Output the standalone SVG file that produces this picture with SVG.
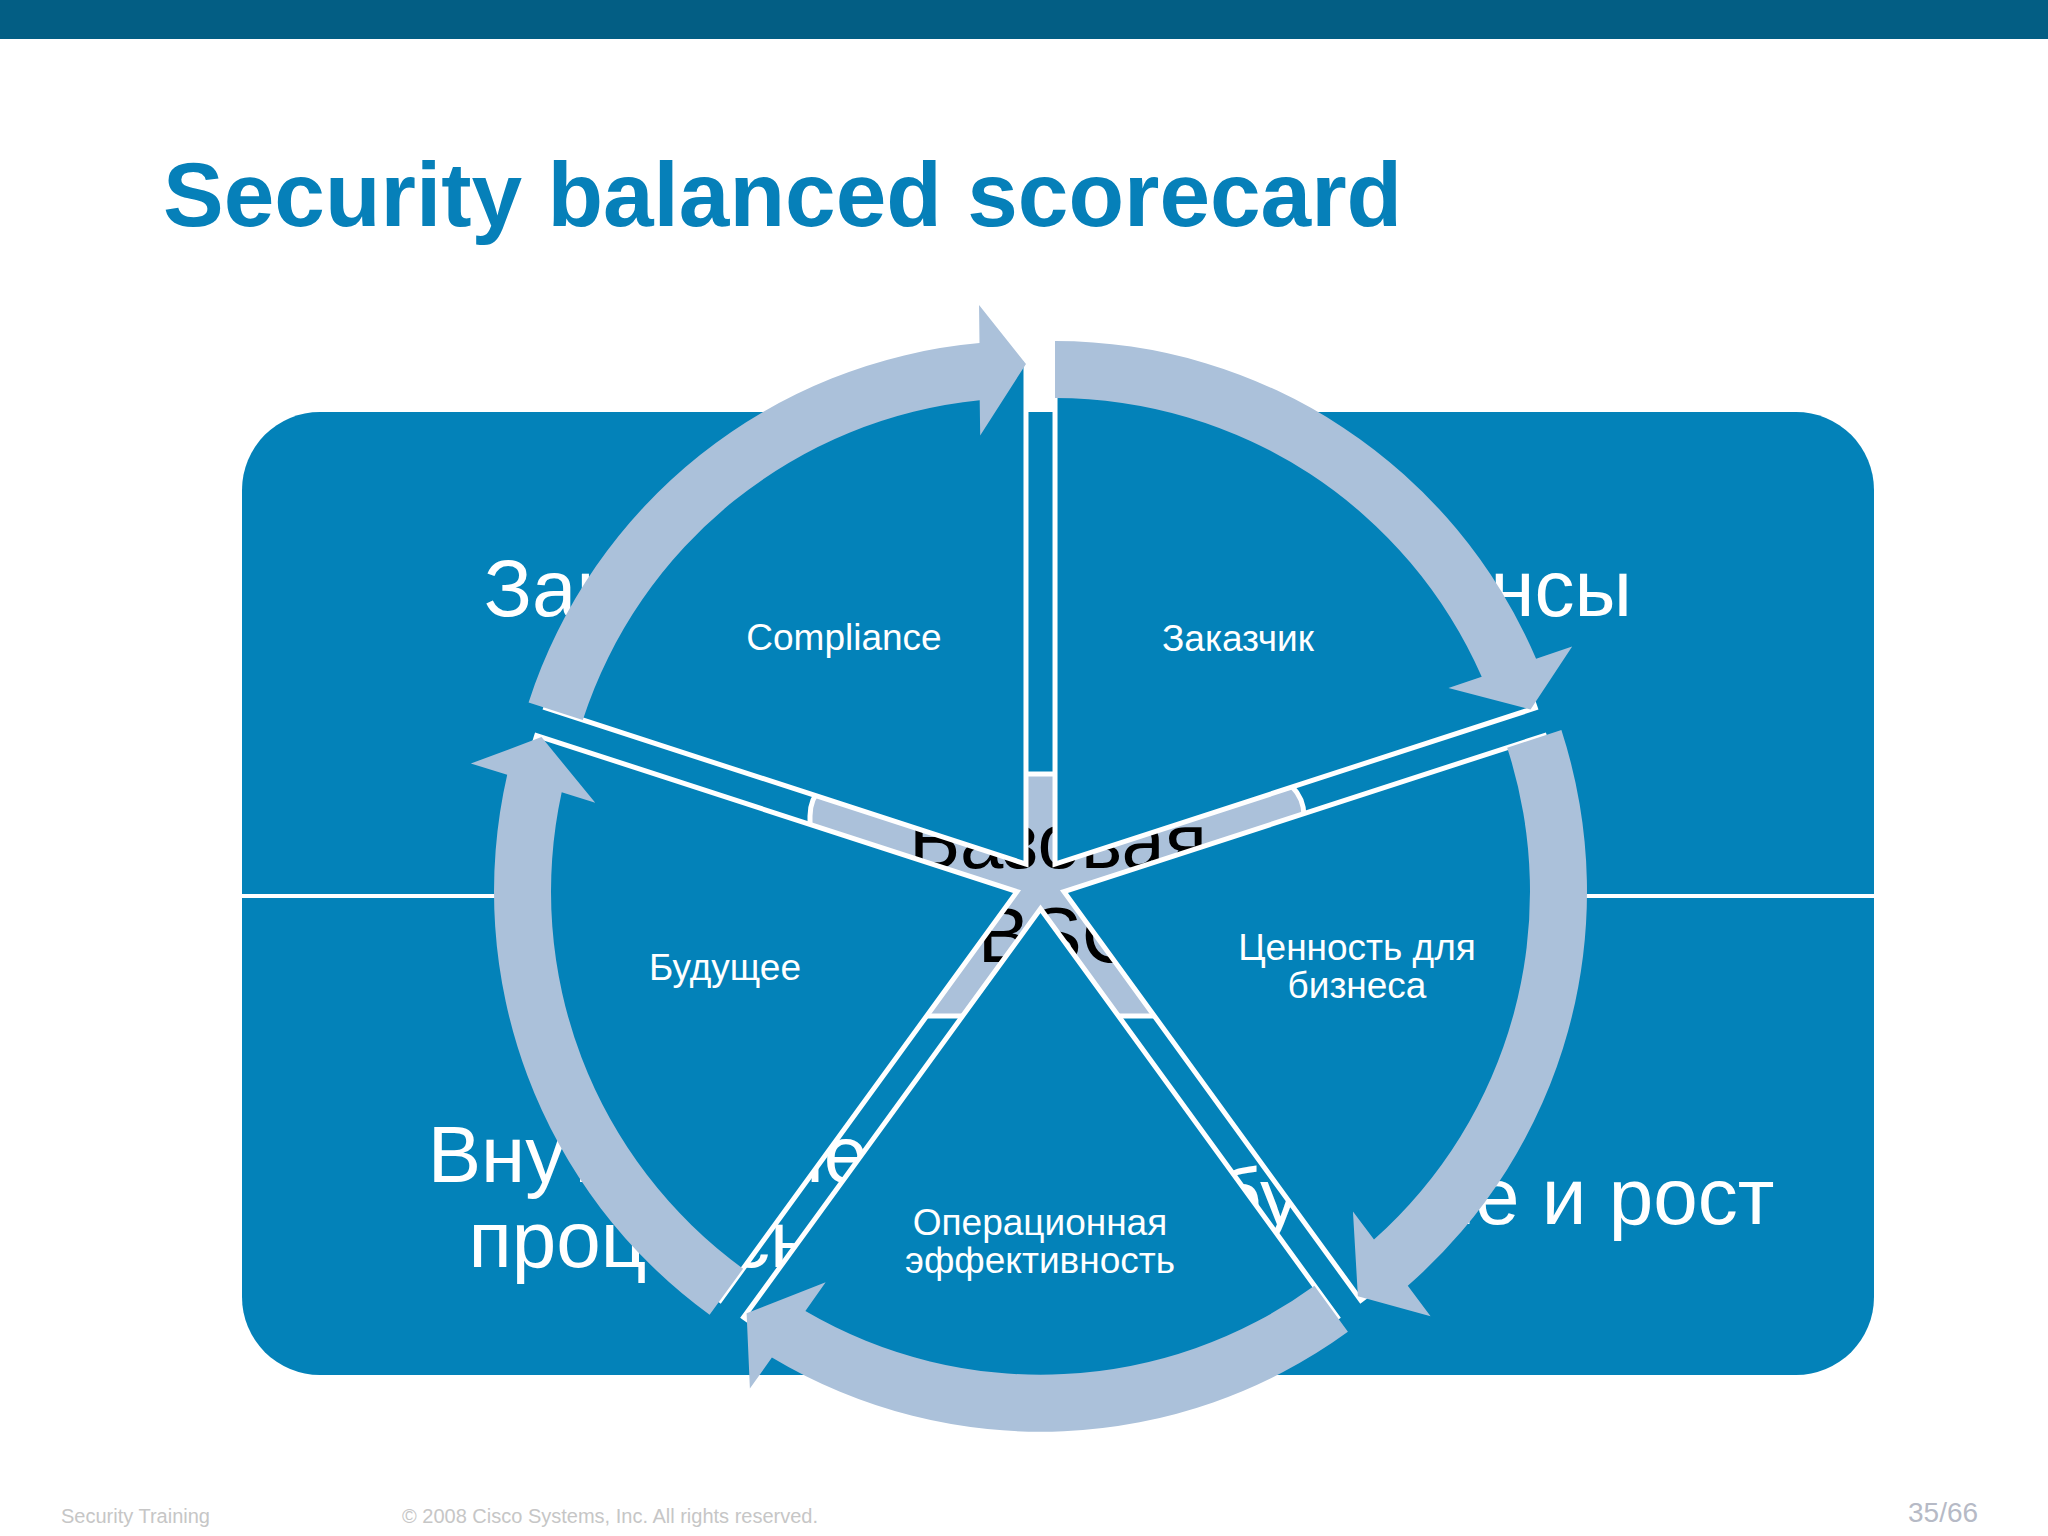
<svg xmlns="http://www.w3.org/2000/svg" xmlns:xlink="http://www.w3.org/1999/xlink" width="2048" height="1536" viewBox="0 0 2048 1536">
<style>
  .sans { font-family: "Liberation Sans", Arial, sans-serif; }
  .quad { font-family: "Liberation Sans", Arial, sans-serif; font-size: 80px; fill: #ffffff; text-anchor: middle; }
  .lbl { font-family: "Liberation Sans", Arial, sans-serif; font-size: 37px; fill: #ffffff; text-anchor: middle; }
  .wedge { fill: #0382b9; stroke: #ffffff; stroke-width: 5; stroke-linejoin: miter; }
  .arrow { fill: #abc1da; stroke: none; }
  .foot { font-family: "Liberation Sans", Arial, sans-serif; font-size: 20px; fill: #c6c6c6; }
</style>
<defs>
  <path id="wedge" class="wedge" d="M1055.02,864.02 L1055.02,359.02 A505,505 0 0 1 1535.33,707.97 Z"/>
  <path id="arrow" class="arrow" d="M1055.02,341.02 A523,523 0 0 1 1536.09,658.83 L1572.18,646.62 L1530.55,709.51 L1448.45,688.03 L1481.72,676.71 A466,466 0 0 0 1055.02,398.02 Z"/>
</defs>
<rect x="0" y="0" width="2048" height="39" fill="#035e84"/>
<text x="163" y="226" class="sans" font-size="91" font-weight="bold" fill="#0680b9">Security balanced scorecard</text>

<g id="board">
  <rect x="242" y="412" width="1632" height="963" rx="78" ry="78" fill="#0382b9"/>
  <line x1="242" y1="896" x2="1874" y2="896" stroke="#ffffff" stroke-width="4"/>
  <text class="quad" x="648" y="616">Заказчик</text>
  <text class="quad" x="1464" y="616">Финансы</text>
  <text class="quad" x="648" y="1182">Внутренние</text>
  <text class="quad" x="648" y="1267">процессы</text>
  <text class="quad" x="1464" y="1224">Обучение и рост</text>
</g>

<g id="core">
  <rect x="810" y="774" width="494" height="242" rx="42" ry="42" fill="#abc1da" stroke="#ffffff" stroke-width="5"/>
  <text class="sans" x="1058" y="868" font-size="78" fill="#000000" text-anchor="middle">Базовая</text>
  <text class="sans" x="1058" y="962" font-size="78" fill="#000000" text-anchor="middle">BSC</text>
</g>

<g id="seg-customer">
  <use xlink:href="#wedge"/>
  <text class="lbl" x="1238" y="651">Заказчик</text>
</g>
<g id="seg-value">
  <use xlink:href="#wedge" transform="rotate(72 1040.5 884)"/>
  <text class="lbl" x="1357" y="960">Ценность для</text>
  <text class="lbl" x="1357" y="998">бизнеса</text>
</g>
<g id="seg-operations">
  <use xlink:href="#wedge" transform="rotate(144 1040.5 884)"/>
  <text class="lbl" x="1040" y="1235">Операционная</text>
  <text class="lbl" x="1040" y="1273">эффективность</text>
</g>
<g id="seg-future">
  <use xlink:href="#wedge" transform="rotate(216 1040.5 884)"/>
  <text class="lbl" x="725" y="980">Будущее</text>
</g>
<g id="seg-compliance">
  <use xlink:href="#wedge" transform="rotate(288 1040.5 884)"/>
  <text class="lbl" x="844" y="650">Compliance</text>
</g>

<g id="connectors">
  <use xlink:href="#arrow"/>
  <use xlink:href="#arrow" transform="rotate(72 1040.5 884)"/>
  <use xlink:href="#arrow" transform="rotate(144 1040.5 884)"/>
  <use xlink:href="#arrow" transform="rotate(216 1040.5 884)"/>
  <use xlink:href="#arrow" transform="rotate(288 1040.5 884)"/>
</g>

<text class="foot" x="61" y="1523">Security Training</text>
<text class="foot" x="402" y="1523">© 2008 Cisco Systems, Inc. All rights reserved.</text>
<text class="sans" x="1908" y="1522" font-size="28" fill="#b6bac6">35/66</text>
</svg>
